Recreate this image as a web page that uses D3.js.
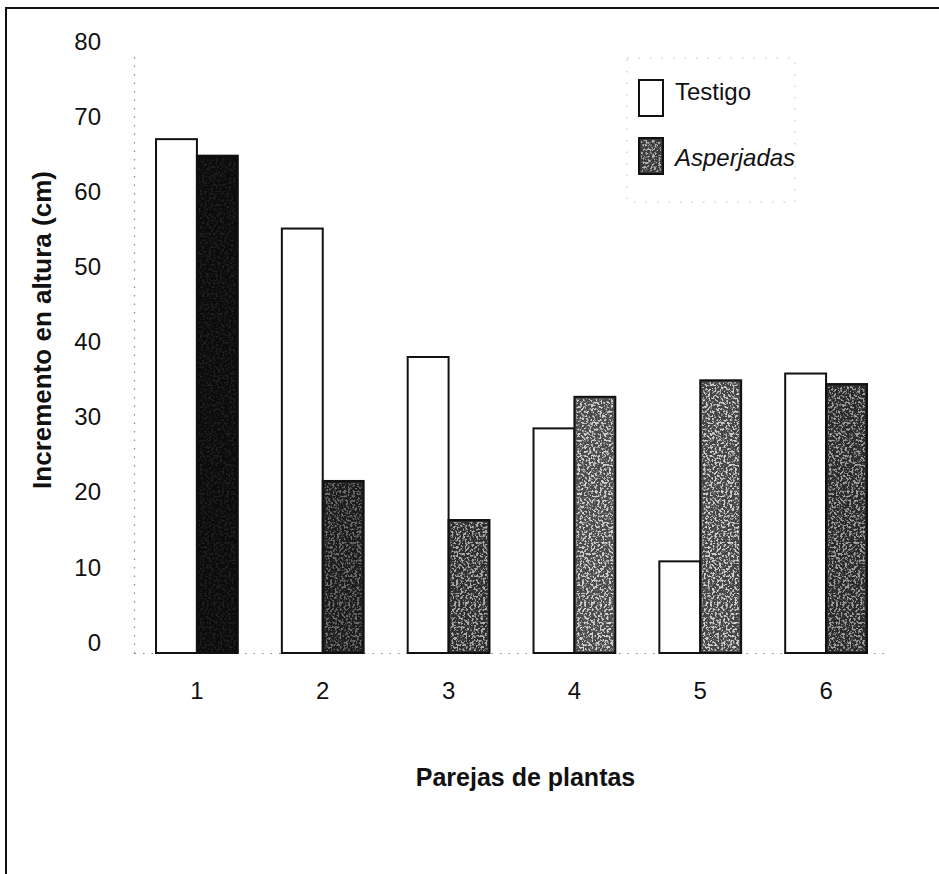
<!DOCTYPE html>
<html>
<head>
<meta charset="utf-8">
<script src="https://cdn.jsdelivr.net/npm/d3@7"></script>
<style>
  body { margin: 0; background: #fff; }
  text { font-family: "Liberation Sans", Arial, sans-serif; fill: #111; }
</style>
</head>
<body>
<div id="graphContainer"></div>
<script>
// Incremento en altura por pareja de plantas (testigo vs asperjadas)

var parejas = ["1", "2", "3", "4", "5", "6"];
var series = ["Testigo", "Asperjadas"];
var testigo = [68.4, 56.5, 39.4, 29.9, 12.2, 37.2];
var asperjadas = [66.2, 22.9, 17.7, 34.1, 36.3, 35.8];
var yTicks = [0, 10, 20, 30, 40, 50, 60, 70, 80];

// scanned-look shades of the sprayed bars, one per pair
var shades = ["#0b0b0b", "#1c1c1c", "#2e2e2e", "#4a4a4a", "#444444", "#2a2a2a"];
var grain = [0.08, 0.35, 0.6, 0.75, 0.75, 0.55];

// note: "top" is reserved on window, so plot edges get their own names
var width = 939, height = 874;
var plotLeft = 134, plotRight = 889, plotTop = 52, plotBottom = 653;

var svg = d3.select("#graphContainer")
    .append("svg")
    .attr("width", width)
    .attr("height", height);

// speckle filter to imitate the photocopied fill
var defs = svg.append("defs");
var f = defs.append("filter").attr("id", "grain")
    .attr("x", 0).attr("y", 0).attr("width", "100%").attr("height", "100%");
f.append("feTurbulence").attr("type", "fractalNoise")
    .attr("baseFrequency", 0.45).attr("numOctaves", 3).attr("seed", 4);
f.append("feColorMatrix").attr("type", "matrix")
    .attr("values", "0 0 0 0 1  0 0 0 0 1  0 0 0 0 1  0 0 0 7 -3.4");
f.append("feComposite").attr("in2", "SourceGraphic").attr("operator", "in");

// frame (only top and left edges survive in the scan)
svg.append("path")
    .attr("d", `M6 ${height} V8 H${width}`)
    .attr("fill", "none")
    .attr("stroke", "#111")
    .attr("stroke-width", 2);

var x0 = d3.scaleBand()
    .domain(parejas)
    .range([plotLeft, plotRight])
    .paddingInner(0.35)
    .paddingOuter(0.175);

var x1 = d3.scaleBand()
    .domain(series)
    .range([0, x0.bandwidth()]);

var y = d3.scaleLinear()
    .domain([0, 80])
    .range([plotBottom, plotTop]);

var yAxis = d3.axisLeft(y).tickValues(yTicks).tickSize(0).tickPadding(33);
svg.append("g")
    .attr("id", "y-axis")
    .attr("transform", `translate(${plotLeft}, 0)`)
    .call(yAxis);

var xAxis = d3.axisBottom(x0).tickSize(0).tickPadding(32);
svg.append("g")
    .attr("id", "x-axis")
    .attr("transform", `translate(0, ${plotBottom})`)
    .call(xAxis);

svg.selectAll(".domain")
    .attr("stroke", "#888")
    .attr("stroke-width", 1.2)
    .attr("stroke-dasharray", "1.5,7");

svg.selectAll(".tick text")
    .attr("font-family", '"Liberation Sans", Arial, sans-serif')
    .attr("font-size", 24)
    .attr("fill", "#111");
d3.select("#y-axis").selectAll(".tick text").attr("dy", "-0.12em");
d3.select("#x-axis").selectAll(".tick text").attr("dy", "0.6em");

var rows = parejas.map(function(p, i) {
    return { pareja: p, i: i, values: [testigo[i], asperjadas[i]] };
});

var groups = svg.selectAll(".grupo")
    .data(rows)
    .join("g")
    .attr("class", "grupo")
    .attr("transform", function(d) { return `translate(${x0(d.pareja)}, 0)`; });

groups.append("rect")
    .attr("x", x1("Testigo"))
    .attr("y", function(d) { return y(d.values[0]); })
    .attr("width", x1.bandwidth())
    .attr("height", function(d) { return y(0) - y(d.values[0]); })
    .attr("fill", "#fff")
    .attr("stroke", "#111")
    .attr("stroke-width", 2);

groups.append("rect")
    .attr("x", x1("Asperjadas"))
    .attr("y", function(d) { return y(d.values[1]); })
    .attr("width", x1.bandwidth())
    .attr("height", function(d) { return y(0) - y(d.values[1]); })
    .attr("fill", function(d) { return shades[d.i]; })
    .attr("stroke", "#111")
    .attr("stroke-width", 2);

groups.append("rect")
    .attr("x", x1("Asperjadas") + 2)
    .attr("y", function(d) { return y(d.values[1]) + 2; })
    .attr("width", x1.bandwidth() - 4)
    .attr("height", function(d) { return y(0) - y(d.values[1]) - 4; })
    .attr("fill", "#fff")
    .attr("filter", "url(#grain)")
    .attr("opacity", function(d) { return grain[d.i]; });

// axis titles
svg.append("text")
    .attr("transform", "translate(51, 330) rotate(-90)")
    .attr("text-anchor", "middle")
    .attr("font-size", 26)
    .attr("font-weight", "bold")
    .text("Incremento en altura (cm)");

svg.append("text")
    .attr("x", (plotLeft + plotRight) / 2 + 14)
    .attr("y", 786)
    .attr("text-anchor", "middle")
    .attr("font-size", 25)
    .attr("font-weight", "bold")
    .text("Parejas de plantas");

// legend
var legend = svg.append("g").attr("transform", "translate(639, 80)");
legend.append("rect")
    .attr("x", -12).attr("y", -22).attr("width", 168).attr("height", 144)
    .attr("fill", "none")
    .attr("stroke", "#bbb")
    .attr("stroke-dasharray", "1.5,10");

legend.selectAll(".swatch")
    .data(series)
    .join("rect")
    .attr("class", "swatch")
    .attr("x", 0)
    .attr("y", function(d, i) { return i * 58; })
    .attr("width", 24)
    .attr("height", 36)
    .attr("fill", function(d, i) { return i === 0 ? "#fff" : "#3a3a3a"; })
    .attr("stroke", "#111")
    .attr("stroke-width", 2);

legend.append("rect")
    .attr("x", 2).attr("y", 60).attr("width", 20).attr("height", 32)
    .attr("fill", "#fff")
    .attr("filter", "url(#grain)")
    .attr("opacity", 0.6);

legend.selectAll(".label")
    .data(series)
    .join("text")
    .attr("class", "label")
    .attr("x", 36)
    .attr("y", function(d, i) { return 20 + i * 66; })
    .attr("font-size", 24)
    .attr("font-style", function(d, i) { return i === 1 ? "italic" : "normal"; })
    .text(function(d) { return d; });
</script>
</body>
</html>
